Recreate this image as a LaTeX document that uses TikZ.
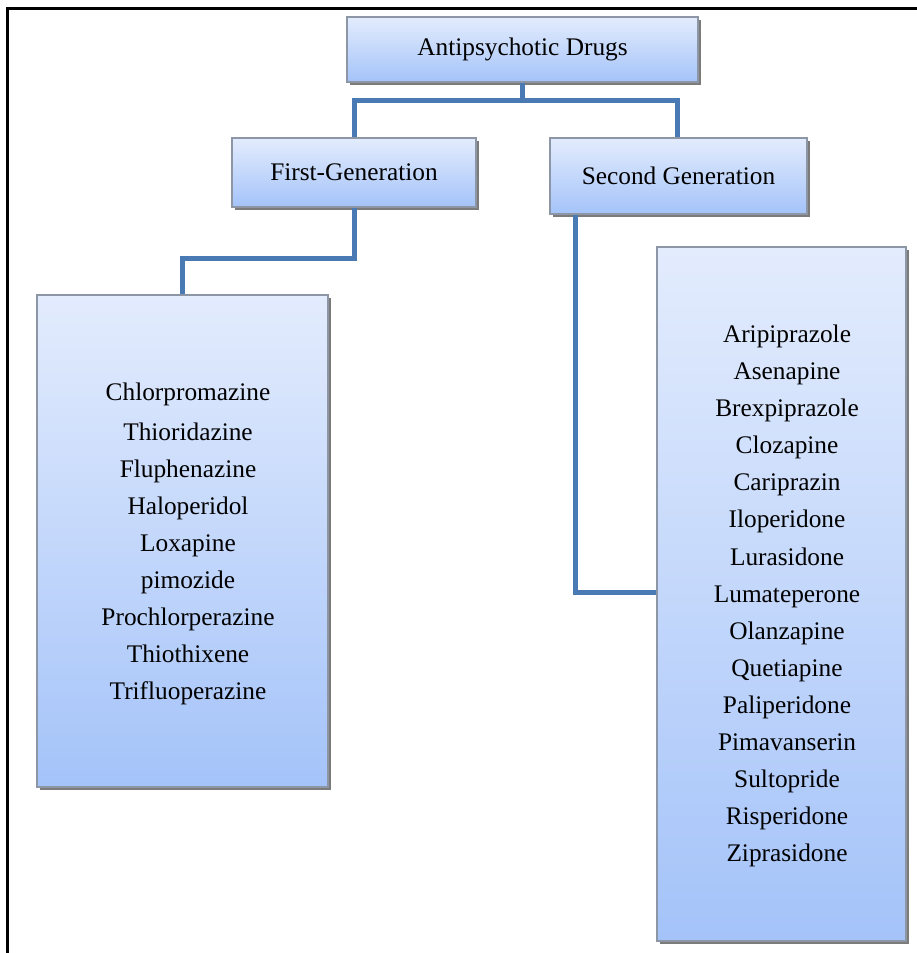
\documentclass[tikz,border=0pt]{standalone}
\usepackage{fontspec}
\setmainfont{Liberation Serif}
\usetikzlibrary{shadows}
\definecolor{boxtop}{RGB}{227,236,253}
\definecolor{boxbot}{RGB}{164,195,249}
\definecolor{boxline}{RGB}{140,150,165}
\definecolor{connblue}{RGB}{74,122,180}
\definecolor{shadowgray}{RGB}{100,100,100}
\tikzset{
  boxnode/.style={rectangle, inner sep=0pt, draw=boxline, line width=0.9pt,
    top color=boxtop, bottom color=boxbot,
    drop shadow={shadow xshift=2.6pt, shadow yshift=-2.6pt, fill=shadowgray, opacity=0.85},
    font=\fontsize{19}{23}\selectfont, align=center},
  listtext/.style={inner sep=0pt, align=center, font=\fontsize{19}{27.8}\selectfont},
  conn/.style={draw=connblue, line width=3.75pt, line join=miter}
}
\begin{document}
\begin{tikzpicture}[x=0.75pt,y=-0.75pt]
\useasboundingbox (0,0) rectangle (917,953);
\clip (0,0) rectangle (917,953);
\fill[white] (0,0) rectangle (917,953);
% frame
\draw[line width=2.4pt, black] (7.5,970) -- (7.5,8.5) -- (940,8.5);
% boxes
\node[boxnode, minimum width=263.25pt, minimum height=48.75pt] (root) at (522.5,49.5) {Antipsychotic Drugs};
\node[boxnode, minimum width=183pt, minimum height=51.75pt] (first) at (354,172.5) {First-Generation};
\node[boxnode, minimum width=192.75pt, minimum height=57pt] (second) at (678.5,176) {Second Generation};
\node[boxnode, minimum width=218.25pt, minimum height=369pt] (leftbox) at (182.5,541) {};
\node[boxnode, minimum width=186.75pt, minimum height=520.5pt] (rightbox) at (781.5,594) {};
% list texts
\node[listtext] (firstlist) at (188,544) {Chlorpromazine\\[2.2pt]Thioridazine\\Fluphenazine\\Haloperidol\\Loxapine\\pimozide\\Prochlorperazine\\Thiothixene\\Trifluoperazine};
\node[listtext] (secondlist) at (787,596) {Aripiprazole\\Asenapine\\Brexpiprazole\\Clozapine\\Cariprazin\\Iloperidone\\Lurasidone\\Lumateperone\\Olanzapine\\Quetiapine\\Paliperidone\\Pimavanserin\\Sultopride\\Risperidone\\Ziprasidone};
% connectors
\draw[conn] (root.south) -- ++(0,18) -| (first.north);
\draw[conn] (root.south) -- ++(0,18) -| ([xshift=-1.1pt]second.north);
\draw[conn] (first.south) -- ++(0,51) -| (leftbox.north);
\draw[conn] ([xshift=-76.9pt]second.south) |- ([yshift=1.5pt]rightbox.west);
\end{tikzpicture}
\end{document}
